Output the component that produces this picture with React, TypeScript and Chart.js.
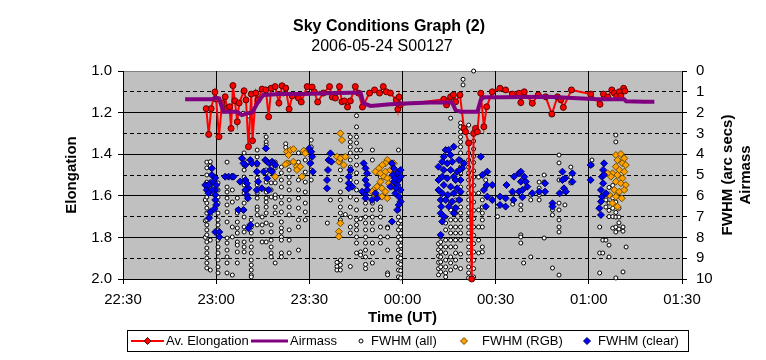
import React, { useEffect, useRef } from 'react';
import { Chart, registerables } from 'chart.js';
Chart.register(...registerables);

// Time is stored as minutes after 22:00 UT
const TITLE = 'Sky Conditions Graph (2)';
const SUBTITLE = '2006-05-24 S00127';
const X_TITLE = 'Time (UT)';
const Y_TITLE = 'Elongation';
const Y2_TITLES = ['FWHM (arc secs)', 'Airmass'];
const TIME_LABELS = ['22:30', '23:00', '23:30', '00:00', '00:30', '01:00', '01:30'];
const ELONG_LABELS = ['1.0', '1.2', '1.4', '1.6', '1.8', '2.0'];
const FWHM_LABELS = ['0', '1', '2', '3', '4', '5', '6', '7', '8', '9', '10'];
const LEGEND = ['Av. Elongation', 'Airmass', 'FWHM (all)', 'FWHM (RGB)', 'FWHM (clear)'];

// [time, elongation]
const avElongation: [number, number][] = [
  [56.8, 1.181], [57.6, 1.305], [58.4, 1.181], [59.6, 1.101], [60.0, 1.135], [60.9, 1.316], [61.9, 1.154],
  [62.9, 1.124], [63.5, 1.178], [64.3, 1.172], [64.8, 1.276], [65.4, 1.07], [66.0, 1.143], [66.8, 1.244],
  [67.4, 1.154], [69.0, 1.095], [69.6, 1.139], [70.4, 1.364], [71.3, 1.111], [71.7, 1.335], [72.8, 1.106],
  [73.5, 1.139], [74.8, 1.087], [76.0, 1.091], [76.9, 1.22], [77.7, 1.083], [79.0, 1.075], [80.2, 1.154],
  [81.2, 1.071], [82.4, 1.082], [83.5, 1.183], [84.5, 1.12], [86.5, 1.13], [87.4, 1.149], [89.3, 1.075],
  [90.9, 1.077], [91.6, 1.1], [92.7, 1.149], [94.5, 1.106], [96.5, 1.075], [97.4, 1.125], [98.4, 1.13],
  [99.7, 1.075], [100.5, 1.148], [101.3, 1.144], [102.3, 1.173], [103.2, 1.144], [104.8, 1.075], [105.8, 1.106],
  [107.1, 1.173], [109.4, 1.106], [111.0, 1.091], [112.6, 1.106], [113.8, 1.075], [114.8, 1.1], [116.1, 1.106],
  [118.0, 1.139], [118.5, 1.184], [118.9, 1.125], [119.3, 1.163],
  [133.3, 1.136], [134.2, 1.163], [134.8, 1.144], [135.5, 1.124], [136.4, 1.115], [137.1, 1.148], [138.5, 1.115],
  [139.8, 1.276], [140.3, 1.292], [141.3, 1.346], [142.3, 2.0], [142.9, 1.3], [143.5, 1.276], [144.1, 1.292],
  [145.2, 1.107], [146.2, 1.268], [147.1, 1.172], [148.9, 1.1], [151.4, 1.083], [153.2, 1.091], [155.4, 1.111],
  [157.5, 1.107], [158.1, 1.152], [159.2, 1.1], [161.8, 1.155], [163.7, 1.115], [166.1, 1.124], [168.1, 1.207],
  [169.9, 1.124], [171.0, 1.139], [171.8, 1.175], [174.4, 1.091], [180.6, 1.111], [183.6, 1.16], [184.7, 1.111],
  [186.1, 1.125], [187.4, 1.091], [188.2, 1.106], [189.0, 1.12], [189.8, 1.1], [190.3, 1.12], [191.2, 1.083],
  [191.6, 1.096],
];

// [time, airmass] (right axis)
const airmass: [number, number][] = [
  [50.0, 1.36], [58.6, 1.36], [60.0, 1.3], [61.0, 1.32], [62.3, 1.96], [66.7, 1.96], [68.3, 2.12], [69.9, 2.04],
  [71.6, 2.0], [73.2, 1.56], [75.2, 1.15], [80.6, 1.11], [88.1, 1.11], [95.8, 1.07], [103.2, 1.04], [106.5, 1.04],
  [107.4, 1.55], [109.7, 1.68], [116.1, 1.6], [122.6, 1.55], [129.0, 1.52], [136.0, 1.52], [137.1, 1.88],
  [138.7, 1.96], [144.1, 1.96], [145.2, 1.39], [146.2, 1.26], [151.6, 1.26], [166.7, 1.24], [182.8, 1.36],
  [191.4, 1.36], [192.0, 1.45], [197.8, 1.48], [201.1, 1.48],
];

// [time, FWHM values of all stars measured in that frame]
const fwhmAll: [number, number[]][] = [
  [56.5, [5.5, 6.2, 7.2, 8.0]],
  [57.0, [4.38, 4.66, 5.0, 5.34, 5.63, 6.06, 6.35, 6.59, 6.83, 7.16, 7.4, 7.64, 7.88, 8.22, 8.51, 8.75, 8.99, 9.23, 9.47]],
  [58.1, [4.36, 4.57, 5.48, 6.92, 8.13, 9.57]],
  [60.6, [5.38, 5.72, 6.06, 6.35, 6.83, 7.16, 7.4, 7.64, 8.13, 8.46, 8.75, 9.09, 9.42, 9.71]],
  [63.5, [4.38, 5.58, 5.82, 6.11, 6.44, 6.78, 7.26, 8.03, 8.27, 8.61, 8.94, 9.23, 9.71]],
  [65.2, [5.72, 6.3, 7.5, 7.98, 9.81]],
  [66.8, [6.11, 6.68, 6.83, 7.26, 7.55, 7.79, 8.22, 8.37, 8.7, 9.23]],
  [68.7, [1.0, 2.03]],
  [69.0, [3.94, 4.28, 4.52, 4.76, 5.1, 5.48, 5.87, 6.35, 6.68, 7.02, 7.5, 7.74, 8.22, 8.46, 8.7]],
  [70.4, [2.16]],
  [71.3, [7.16, 7.5, 7.79, 8.13, 8.46, 8.75, 9.09, 9.33, 9.57, 9.81, 9.9]],
  [73.2, [3.8, 4.13, 4.52, 4.86, 5.14, 5.48, 5.87, 6.11, 6.54, 6.68, 6.92, 7.4]],
  [74.8, [7.02, 7.4, 7.74, 8.22]],
  [76.1, [3.17, 3.41, 3.56, 4.76, 4.9, 5.34, 5.72, 5.82, 6.11, 6.3, 6.54, 6.83, 7.31, 8.22]],
  [77.7, [5.38, 5.72, 6.06, 7.4, 7.74, 8.13, 8.46, 8.75, 8.94]],
  [79.0, [4.38, 4.66, 5.1, 5.38, 5.96, 6.11, 6.54, 6.83, 9.23]],
  [81.0, [4.62, 4.9, 5.24, 5.58, 6.06, 6.35, 6.78, 7.26, 7.55, 7.74, 7.98, 8.13, 8.75, 8.94]],
  [81.6, [1.1]],
  [82.4, [3.5, 3.67]],
  [83.5, [4.42, 4.76, 5.1, 5.38, 5.72, 6.2, 6.54, 6.92, 7.64, 8.13, 8.75]],
  [86.5, [3.94, 4.38, 4.66, 5.24, 5.72, 6.11, 6.59, 7.16, 7.5, 8.61]],
  [88.7, [4.28, 4.86, 5.34, 5.82, 6.35, 6.78, 7.16]],
  [90.6, [3.32, 3.65, 3.94, 4.42, 4.76, 5.24]],
  [95.8, [7.31]],
  [96.8, [6.2]],
  [98.9, [9.2, 9.4, 9.57]],
  [100.0, [4.28, 4.76, 5.24, 5.82, 6.2, 6.54, 6.83, 7.16, 9.09, 9.33, 9.57]],
  [101.6, [6.9]],
  [103.2, [3.17, 3.41, 3.65, 3.94, 4.28, 4.62, 4.9, 5.24, 5.58, 6.06, 6.54, 7.02, 7.5, 7.79, 9.4]],
  [105.2, [2.15, 2.69, 3.17, 3.46, 3.8, 4.13, 4.52, 4.9, 5.34, 5.72, 6.2, 6.68, 7.16, 7.4, 7.64, 7.98, 8.27, 8.75]],
  [106.5, [3.8, 7.1, 8.7, 8.85]],
  [108.1, [6.35, 6.68, 7.02, 7.31, 7.64, 7.98, 8.27, 8.61, 8.94, 9.3, 9.5]],
  [110.3, [3.8, 4.28, 6.35, 6.68, 7.02, 7.31, 7.64, 8.27, 8.75, 9.23]],
  [112.9, [5.1, 5.58, 6.06, 6.54, 6.68, 7.02, 7.5, 7.98, 8.27]],
  [115.2, [7.5, 7.55, 7.98, 8.61, 9.71, 9.8]],
  [118.7, [3.8, 6.68, 7.02, 7.31, 7.64, 7.98, 8.27, 8.61, 8.94, 9.23, 9.57, 9.9]],
  [119.4, [7.2, 7.5, 7.8, 8.1, 8.4, 8.7, 9.0, 9.3, 9.6, 9.95]],
  [131.6, [8.3, 8.6, 8.9, 9.2, 9.5, 9.8]],
  [132.3, [7.98, 8.22, 8.46, 8.7, 8.94, 9.18, 9.42, 9.66]],
  [133.9, [7.02, 7.31, 7.64, 8.13, 8.46, 8.75, 9.09, 9.42, 9.71, 9.9]],
  [135.5, [2.27, 6.35, 6.68, 7.16, 7.5, 7.79, 8.13, 8.46, 8.94, 9.23, 9.57]],
  [137.1, [6.2, 6.54, 6.83, 7.16, 7.5, 7.79, 8.13, 8.46, 8.75, 9.09, 9.42]],
  [138.7, [2.5, 2.69, 2.93, 3.17, 3.41, 3.65, 3.94, 4.28, 4.62, 4.9, 5.24, 5.58, 5.87, 6.2, 6.54, 6.83, 7.16, 7.5, 7.79, 8.13, 8.8, 9.5]],
  [139.5, [0.4, 0.67]],
  [141.3, [2.6, 3.94, 4.28, 4.62, 4.9, 5.24, 5.58, 5.87, 6.2, 6.54, 6.83, 7.16, 7.5, 7.79, 8.13, 8.46, 8.75, 9.09, 9.42, 9.71, 9.95]],
  [142.9, [0, 3.37, 3.75, 4.1, 4.4, 4.8, 5.1, 5.5, 5.9, 6.3, 6.7, 7.1, 7.5, 7.9, 8.3, 8.7, 9.1, 9.5, 9.9]],
  [144.5, [5.1, 5.87, 6.68, 7.5, 8.13, 8.75]],
  [145.7, [6.2, 6.54, 6.83, 7.16, 7.5, 8.46, 8.7]],
  [146.8, [4.9, 5.24, 5.58]],
  [150.6, [6.5, 7.0]],
  [155.5, [5.9, 6.4]],
  [158.1, [6.44, 6.68, 7.88, 7.98, 8.27]],
  [159.0, [9.23]],
  [161.3, [5.96, 6.2, 8.94]],
  [164.0, [5.34, 5.63, 5.96, 6.2]],
  [165.6, [5.0, 5.34, 8.03]],
  [168.3, [6.68, 6.92, 9.47]],
  [170.4, [4.04, 4.42, 5.24, 6.35, 6.68, 7.16, 7.5, 7.74, 9.81]],
  [172.3, [6.44]],
  [174.2, [4.62, 5.1, 5.38]],
  [181.0, [4.28, 4.52]],
  [183.5, [7.5, 8.75, 9.71]],
  [184.5, [8.13, 8.75]],
  [185.5, [5.87, 6.2, 6.54, 8.13]],
  [186.5, [5.6, 6.0, 6.35, 6.7, 7.0, 8.37, 8.94]],
  [187.7, [5.5, 6.1, 6.6, 7.0, 7.55]],
  [188.7, [3.08, 3.41, 6.3, 6.8, 7.02, 7.5, 7.74, 9.95]],
  [189.7, [6.6, 7.02, 7.3, 7.6]],
  [191.0, [7.5, 7.7, 9.66]],
  [192.0, [8.46]],
];

// [time, FWHM] RGB frames
const fwhmRGB: [number, number][] = [
  [79.0, 5.08], [82.8, 3.88], [83.9, 3.8], [84.9, 3.76], [83.3, 4.04], [88.2, 3.83], [88.7, 3.96], [82.8, 4.44],
  [84.9, 4.36], [86.0, 4.6], [87.1, 4.6], [86.0, 4.76], [87.6, 5.08], [82.3, 4.49],
  [100.0, 3.0], [100.5, 3.32], [98.9, 4.12], [99.5, 4.36], [100.0, 4.2], [101.6, 4.12], [101.1, 4.52],
  [115.1, 4.28], [114.5, 4.44], [113.5, 4.52], [112.4, 4.68], [111.3, 4.84], [112.9, 4.92], [114.5, 4.84],
  [116.1, 4.76], [114.0, 5.08], [115.1, 5.16], [112.9, 5.32], [111.8, 5.56], [113.4, 5.64], [115.6, 5.4],
  [114.5, 5.8], [113.4, 6.04], [115.1, 6.12], [110.7, 5.72], [110.2, 5.8], [111.3, 5.96], [116.6, 5.56],
  [117.2, 4.44], [117.7, 4.84], [100.0, 7.32], [99.5, 7.72], [99.5, 7.96],
  [188.7, 4.04], [190.3, 3.99], [191.4, 4.2], [189.2, 4.28], [190.8, 4.44], [191.9, 4.52], [188.7, 4.6],
  [189.8, 4.76], [191.4, 4.84], [187.6, 4.92], [189.2, 5.0], [190.8, 5.16], [187.1, 5.08], [188.7, 5.32],
  [190.3, 5.4], [191.9, 5.48], [188.2, 5.72], [189.8, 5.8], [191.4, 5.72], [186.6, 5.96], [188.7, 6.04],
  [190.6, 6.12], [187.6, 6.36], [189.2, 6.52], [186.0, 4.92],
];

// [time, FWHM] clear frames
const fwhmClear: [number, number][] = [
  [56.5, 5.48], [57.0, 5.72], [57.5, 5.87], [58.1, 5.38], [58.6, 5.0], [58.6, 4.68], [59.1, 5.32], [59.7, 5.14],
  [60.0, 5.48], [59.7, 5.72], [59.7, 5.96], [59.7, 6.2], [60.0, 6.44], [59.4, 6.63], [58.1, 6.78], [57.7, 7.07],
  [59.7, 7.74], [61.0, 7.74], [61.0, 7.98], [57.5, 5.48], [58.7, 5.72],
  [62.9, 5.08], [64.0, 5.08], [65.1, 5.08], [65.6, 5.08],
  [67.2, 6.68], [68.8, 6.68], [67.7, 5.32], [69.4, 5.24], [69.9, 5.4], [70.4, 5.64], [69.4, 5.72], [69.9, 5.96],
  [70.2, 6.12], [69.4, 4.52], [71.0, 4.28], [71.5, 4.44], [71.0, 7.4], [70.4, 7.56], [68.3, 4.2], [68.8, 4.44],
  [73.1, 4.44], [73.1, 4.84], [73.5, 5.32], [73.1, 5.72], [74.7, 5.64], [75.8, 4.28], [76.4, 4.36], [77.1, 4.44],
  [78.0, 4.36], [78.5, 4.44], [77.4, 4.76], [78.0, 4.84], [79.0, 4.52], [76.9, 5.72], [76.0, 3.72], [75.3, 4.84],
  [76.4, 5.16],
  [90.0, 3.72], [90.6, 3.88], [90.9, 4.12], [90.3, 4.44], [91.1, 4.84],
  [96.8, 3.96], [96.2, 4.28], [97.1, 4.36], [96.0, 4.76], [95.7, 5.24], [95.7, 5.64],
  [103.2, 4.76], [102.7, 5.08], [102.7, 5.4], [103.8, 5.56], [102.7, 5.64],
  [107.5, 4.44], [108.1, 4.68], [108.6, 4.92], [108.1, 5.24], [108.6, 5.48], [108.6, 5.72], [108.1, 5.96],
  [108.1, 6.12], [107.0, 5.8], [110.2, 6.2], [111.8, 6.12], [111.3, 5.88],
  [116.6, 4.44], [117.2, 4.68], [118.3, 4.92], [118.8, 5.24], [118.3, 5.48], [119.4, 5.72], [118.8, 6.04],
  [119.4, 6.28], [118.8, 6.44], [118.3, 6.68], [116.6, 7.24], [117.7, 5.88], [116.9, 5.0], [116.1, 5.56],
  [117.2, 5.32], [117.5, 5.16], [119.4, 4.76], [119.4, 5.08], [118.0, 5.64],
  [136.5, 3.64], [133.9, 3.8], [135.5, 4.04], [133.3, 4.12], [132.8, 4.36], [134.4, 4.44], [136.0, 4.36],
  [138.2, 4.28], [139.8, 4.44], [133.3, 4.76], [135.5, 4.76], [137.6, 4.84], [132.8, 5.08], [134.4, 5.16],
  [136.5, 5.08], [138.7, 5.24], [133.3, 5.48], [135.5, 5.56], [137.6, 5.64], [132.8, 5.88], [134.6, 5.96],
  [136.5, 5.88], [138.7, 5.8], [132.3, 6.2], [133.9, 6.2], [136.0, 6.28], [138.2, 6.2], [132.5, 6.52],
  [134.9, 6.52], [137.1, 6.6], [132.3, 6.84], [133.3, 7.0], [136.5, 6.84], [132.8, 7.24], [132.3, 7.88],
  [139.2, 4.68], [131.6, 4.6], [131.6, 5.24], [131.6, 5.72], [134.8, 3.8], [137.1, 5.24], [138.4, 4.76],
  [145.2, 4.12], [145.7, 5.0], [147.3, 4.84], [147.1, 5.48], [148.9, 5.48], [146.2, 5.72], [147.3, 6.04],
  [148.9, 6.2], [146.8, 6.52], [151.4, 6.04], [151.4, 6.44], [153.2, 6.12], [153.2, 6.52], [153.5, 5.48],
  [155.9, 5.08], [155.4, 5.8], [155.7, 6.2], [157.5, 4.92], [157.5, 5.8],
  [158.1, 4.84], [159.2, 5.08], [158.1, 5.32], [159.7, 5.32], [158.6, 5.72], [158.6, 6.07], [160.2, 5.56],
  [161.8, 5.88], [164.0, 5.8], [165.9, 5.4], [165.9, 5.8], [168.3, 6.36], [168.3, 6.52], [171.5, 4.84],
  [172.4, 5.16], [174.7, 4.92], [174.7, 5.32], [171.5, 5.24], [172.0, 5.64], [172.6, 5.8], [170.6, 5.88],
  [180.6, 4.52], [180.6, 5.24], [184.9, 4.44], [184.6, 4.76], [184.2, 5.08], [184.6, 5.4], [183.9, 5.72],
  [184.2, 6.04], [183.9, 6.28], [183.4, 6.6], [183.9, 6.92], [184.9, 5.0], [185.5, 5.88],
];

const FONT = '"Liberation Sans", Arial, Helvetica, sans-serif';
const toXY = (arr: [number, number][]) => arr.map(([x, y]) => ({ x, y }));

function diamond(ctx: CanvasRenderingContext2D, x: number, y: number, r: number, fill: string, stroke: string) {
  ctx.beginPath();
  ctx.moveTo(x, y - r);
  ctx.lineTo(x + r, y);
  ctx.lineTo(x, y + r);
  ctx.lineTo(x - r, y);
  ctx.closePath();
  ctx.fillStyle = fill;
  ctx.fill();
  ctx.lineWidth = 1;
  ctx.strokeStyle = stroke;
  ctx.stroke();
}

const decor = {
  id: 'decor',
  beforeDraw(chart: any) {
    const { ctx, chartArea: a } = chart;
    ctx.save();
    ctx.fillStyle = '#ffffff';
    ctx.fillRect(0, 0, chart.width, chart.height);
    ctx.fillStyle = '#C0C0C0';
    ctx.fillRect(a.left, a.top, a.right - a.left, a.bottom - a.top);
    ctx.strokeStyle = '#808080';
    ctx.lineWidth = 1;
    ctx.beginPath();
    ctx.moveTo(a.left, Math.round(a.top) + 0.5);
    ctx.lineTo(a.right, Math.round(a.top) + 0.5);
    ctx.stroke();
    ctx.restore();
  },
  afterDraw(chart: any) {
    const { ctx, chartArea: a } = chart;
    const cy = (a.top + a.bottom) / 2;
    ctx.save();
    ctx.fillStyle = '#000';
    ctx.textBaseline = 'middle';
    ctx.textAlign = 'center';
    ctx.font = `bold 16px ${FONT}`;
    ctx.fillText(TITLE, 389, 27);
    ctx.font = `16px ${FONT}`;
    ctx.fillText(SUBTITLE, 382, 47);
    ctx.font = `bold 15px ${FONT}`;
    ctx.fillText(X_TITLE, (a.left + a.right) / 2, 318);
    const rot = (s: string, x: number) => {
      ctx.save();
      ctx.translate(x, cy);
      ctx.rotate(-Math.PI / 2);
      ctx.fillText(s, 0, 0);
      ctx.restore();
    };
    rot(Y_TITLE, 72);
    rot(Y2_TITLES[0], 728);
    rot(Y2_TITLES[1], 746);

    // legend
    const ly = 341;
    ctx.lineWidth = 1;
    ctx.strokeStyle = '#000';
    ctx.strokeRect(127.5, 330.5, 561, 21);
    ctx.font = `13px ${FONT}`;
    ctx.textAlign = 'left';
    ctx.fillStyle = '#000';
    ctx.strokeStyle = '#FF0000';
    ctx.lineWidth = 2;
    ctx.beginPath(); ctx.moveTo(131, ly); ctx.lineTo(164, ly); ctx.stroke();
    diamond(ctx, 147.5, ly, 3.5, '#FF0000', '#600000');
    ctx.fillStyle = '#000';
    ctx.fillText(LEGEND[0], 166, ly);
    ctx.strokeStyle = '#800080';
    ctx.lineWidth = 3;
    ctx.beginPath(); ctx.moveTo(251, ly); ctx.lineTo(288, ly); ctx.stroke();
    ctx.fillStyle = '#000';
    ctx.fillText(LEGEND[1], 290, ly);
    ctx.beginPath();
    ctx.arc(361, ly, 2, 0, Math.PI * 2);
    ctx.fillStyle = '#fff'; ctx.fill();
    ctx.lineWidth = 1; ctx.strokeStyle = '#000'; ctx.stroke();
    ctx.fillStyle = '#000';
    ctx.fillText(LEGEND[2], 371, ly);
    diamond(ctx, 464, ly, 3.5, '#FFA000', '#705000');
    ctx.fillStyle = '#000';
    ctx.fillText(LEGEND[3], 482, ly);
    diamond(ctx, 587, ly, 3.5, '#0000FF', '#000060');
    ctx.fillStyle = '#000';
    ctx.fillText(LEGEND[4], 598, ly);
    ctx.restore();
  },
};

export default function App() {
  const ref = useRef<HTMLCanvasElement>(null);
  useEffect(() => {
    document.body.style.margin = '0';
    Chart.defaults.font.family = FONT;
    Chart.defaults.color = '#000';
    const allPts: { x: number; y: number }[] = [];
    fwhmAll.forEach(([t, vs]) => vs.forEach((v) => allPts.push({ x: t, y: v })));

    const chart = new Chart(ref.current as HTMLCanvasElement, {
      type: 'scatter',
      data: {
        datasets: [
          {
            label: LEGEND[1], data: toXY(airmass), yAxisID: 'y2', showLine: true,
            borderColor: '#800080', backgroundColor: '#800080', borderWidth: 4, pointRadius: 0, order: 0, clip: false,
          },
          {
            label: LEGEND[0], data: toXY(avElongation), yAxisID: 'y', showLine: true,
            borderColor: '#FF0000', backgroundColor: '#FF0000', borderWidth: 2,
            pointRadius: 3, pointStyle: 'circle', pointBackgroundColor: '#FF0000', pointBorderColor: '#600000',
            pointBorderWidth: 1, order: 1, clip: false,
          },
          {
            label: LEGEND[4], data: toXY(fwhmClear), yAxisID: 'y2', pointStyle: 'rectRot', pointRadius: 3.5,
            pointBackgroundColor: '#0000FF', pointBorderColor: '#000060', pointBorderWidth: 1, order: 2, clip: false,
          },
          {
            label: LEGEND[3], data: toXY(fwhmRGB), yAxisID: 'y2', pointStyle: 'rectRot', pointRadius: 3.5,
            pointBackgroundColor: '#FFA000', pointBorderColor: '#705000', pointBorderWidth: 1, order: 3, clip: false,
          },
          {
            label: LEGEND[2], data: allPts, yAxisID: 'y2', pointStyle: 'circle', pointRadius: 2,
            pointBackgroundColor: '#FFFFFF', pointBorderColor: '#000000', pointBorderWidth: 1, order: 4, clip: false,
          },
        ],
      },
      options: {
        responsive: false,
        animation: false,
        devicePixelRatio: 1,
        layout: { padding: { top: 71, left: 0, right: 0, bottom: 51 } },
        plugins: { legend: { display: false }, title: { display: false }, tooltip: { enabled: false } },
        events: [],
        scales: {
          x: {
            type: 'linear', position: 'bottom', min: 30, max: 210,
            ticks: {
              stepSize: 30, autoSkip: false, maxRotation: 0, padding: 7, font: { size: 15 }, color: '#000',
              callback: (v: number) => TIME_LABELS[Math.round((v - 30) / 30)],
            },
            grid: { color: '#000', tickColor: '#000', tickLength: 5 },
            border: { color: '#000' },
            afterFit: (s: any) => { s.height = 30; },
          },
          y: {
            type: 'linear', position: 'left', reverse: true, min: 1, max: 2,
            ticks: {
              stepSize: 0.2, autoSkip: false, padding: 6, font: { size: 15 }, color: '#000',
              callback: (v: number) => ELONG_LABELS[Math.round((v - 1) / 0.2)],
            },
            grid: {
              color: (c: any) => (c.tick && (Math.abs(c.tick.value - 1) < 1e-6 || Math.abs(c.tick.value - 2) < 1e-6)
                ? 'rgba(0,0,0,0)' : '#000'),
              tickColor: '#000', tickLength: 5,
            },
            border: { color: '#000' },
            afterFit: (s: any) => { s.width = 123; },
          },
          y2: {
            type: 'linear', position: 'right', reverse: true, min: 0, max: 10,
            ticks: {
              stepSize: 1, autoSkip: false, padding: 9, font: { size: 15 }, color: '#000',
              callback: (v: number) => FWHM_LABELS[Math.round(v)],
            },
            grid: {
              color: (c: any) => (c.tick && Math.round(c.tick.value) % 2 === 1 ? '#000' : 'rgba(0,0,0,0)'),
              tickColor: '#000', tickLength: 5,
            },
            border: { color: '#000', dash: (c: any) => (c.type === 'tick' ? [4, 3] : []) },
            afterFit: (s: any) => { s.width = 84; },
          },
        },
      } as any,
      plugins: [decor],
    });
    return () => chart.destroy();
  }, []);
  return (
    <div style={{ width: 766, height: 360 }}>
      <canvas ref={ref} width={766} height={360} style={{ display: 'block' }} />
    </div>
  );
}
